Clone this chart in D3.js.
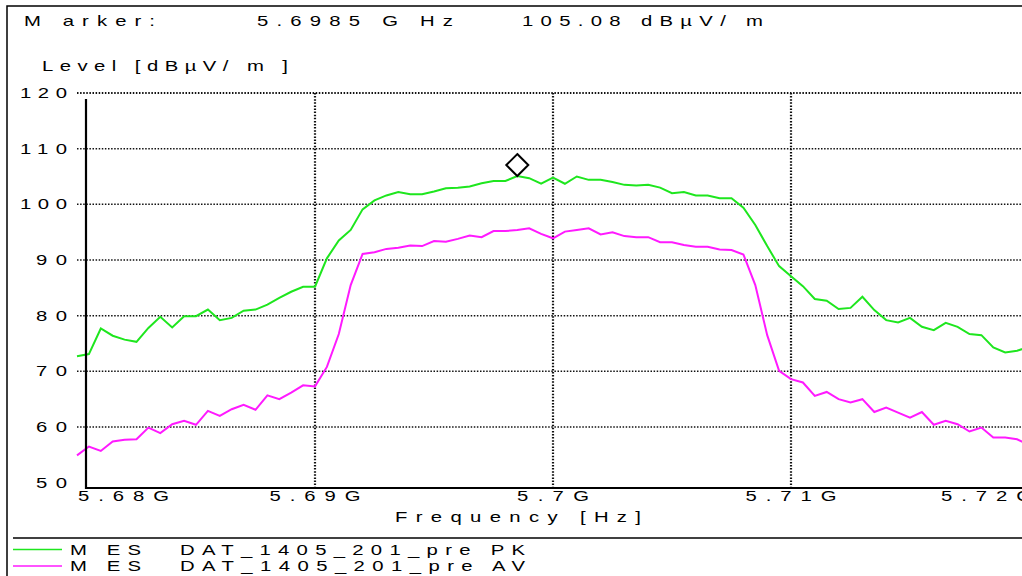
<!DOCTYPE html>
<html>
<head>
<meta charset="utf-8">
<title>MES DAT_1405_201_pre</title>
<script src="https://d3js.org/d3.v7.min.js"></script>
<style>
  body { margin: 0; background: #fff; }
  svg text { font-family: "Liberation Sans", Arial, sans-serif; font-size: 14px; fill: #000; }
</style>
</head>
<body>
<div id="canvas"></div>
<script>
// sweep frequencies (GHz)
var freqs = [
  5.6800, 5.6805, 5.6810, 5.6815, 5.6820, 5.6825, 5.6830, 5.6835, 5.6840, 5.6845,
  5.6850, 5.6855, 5.6860, 5.6865, 5.6870, 5.6875, 5.6880, 5.6885, 5.6890, 5.6895,
  5.6900, 5.6905, 5.6910, 5.6915, 5.6920, 5.6925, 5.6930, 5.6935, 5.6940, 5.6945,
  5.6950, 5.6955, 5.6960, 5.6965, 5.6970, 5.6975, 5.6980, 5.6985, 5.6990, 5.6995,
  5.7000, 5.7005, 5.7010, 5.7015, 5.7020, 5.7025, 5.7030, 5.7035, 5.7040, 5.7045,
  5.7050, 5.7055, 5.7060, 5.7065, 5.7070, 5.7075, 5.7080, 5.7085, 5.7090, 5.7095,
  5.7100, 5.7105, 5.7110, 5.7115, 5.7120, 5.7125, 5.7130, 5.7135, 5.7140, 5.7145,
  5.7150, 5.7155, 5.7160, 5.7165, 5.7170, 5.7175, 5.7180, 5.7185, 5.7190, 5.7195,
  5.7200
];

// MES DAT_1405_201_pre PK  (dBµV/m)
var levelPK = [
  72.7, 73.1, 77.7, 76.4, 75.7, 75.3, 77.8, 79.8, 77.9, 79.9,
  79.9, 81.1, 79.2, 79.6, 80.9, 81.1, 82.0, 83.2, 84.3, 85.2,
  85.2, 90.3, 93.5, 95.4, 99.1, 100.7, 101.6, 102.2, 101.8, 101.8,
  102.3, 102.9, 103.0, 103.2, 103.8, 104.2, 104.2, 105.08, 104.7, 103.7,
  104.8, 103.7, 105.0, 104.4, 104.4, 104.0, 103.5, 103.4, 103.5, 103.0,
  102.0, 102.2, 101.6, 101.6, 101.1, 101.1, 99.4, 96.3, 92.5, 88.9,
  87.1, 85.3, 83.0, 82.7, 81.2, 81.4, 83.4, 81.0, 79.2, 78.8,
  79.6, 78.0, 77.4, 78.7, 78.0, 76.7, 76.5, 74.3, 73.4, 73.7,
  74.4
];

// MES DAT_1405_201_pre AV  (dBµV/m)
var levelAV = [
  54.9, 56.5, 55.7, 57.4, 57.7, 57.8, 59.9, 58.9, 60.5, 61.1,
  60.4, 62.9, 62.0, 63.2, 64.0, 63.1, 65.7, 65.0, 66.2, 67.5,
  67.3, 70.8, 76.7, 85.5, 91.1, 91.4, 92.0, 92.2, 92.6, 92.5,
  93.4, 93.3, 93.8, 94.4, 94.1, 95.2, 95.2, 95.4, 95.7, 94.7,
  93.9, 95.1, 95.4, 95.7, 94.6, 95.0, 94.3, 94.1, 94.1, 93.2,
  93.2, 92.7, 92.4, 92.4, 91.9, 91.8, 91.0, 85.5, 76.5, 70.1,
  68.6, 68.0, 65.6, 66.3, 65.0, 64.4, 65.0, 62.7, 63.5, 62.6,
  61.7, 62.7, 60.4, 61.1, 60.5, 59.2, 59.9, 58.1, 58.1, 57.8,
  56.8
];

var yTicks = [120, 110, 100, 90, 80, 70, 60, 50];
var xTicks = [5.68, 5.69, 5.70, 5.71, 5.72];
var xTickLabels = ["5.68G", "5.69G", "5.7G", "5.71G", "5.72G"];
var markerFreq = 5.6985, markerLevel = 105.08;

var W = 1022, H = 576;
var SX = 1.45;  // the printout's font is stretched horizontally

var svg = d3.select("#canvas").append("svg")
    .attr("width", W).attr("height", H);

var x = d3.scaleLinear().domain([5.68, 5.72]).range([77, 1029]);
var y = d3.scaleLinear().domain([50, 120]).range([482.7, 93]);

// outer frame
svg.append("rect")
    .attr("x", 7).attr("y", 6).attr("width", W + 20).attr("height", H + 20)
    .attr("fill", "none").attr("stroke", "#000").attr("stroke-width", 1.5);

svg.append("line")
    .attr("x1", 13).attr("x2", W).attr("y1", 538).attr("y2", 538)
    .attr("stroke", "#000").attr("stroke-width", 1.5);

// stretched text, spread to a given width
function label(t, px, py, len, anchor) {
    return svg.append("text").text(t)
        .attr("transform", "translate(" + px + "," + py + ") scale(" + SX + ",1)")
        .attr("text-anchor", anchor || "start")
        .attr("textLength", len / SX).attr("lengthAdjust", "spacing");
}
label("M arker:", 24, 26, 131);
label("5.6985 G Hz", 257, 26, 196);
label("105.08 dBµV/ m", 522, 26, 241);
label("Level [dBµV/ m ]", 42, 71, 246);

// horizontal dotted grid
svg.append("g").selectAll("line")
    .data(yTicks.filter(function(d) { return d > 50; }))
    .enter().append("line")
    .attr("x1", 77).attr("x2", W)
    .attr("y1", function(d) { return y(d); })
    .attr("y2", function(d) { return y(d); })
    .attr("stroke", "#111")
    .attr("stroke-width", function(d) { return d == 120 ? 2 : 1.5; })
    .attr("stroke-dasharray", "1.5,1.6");

// vertical dotted grid
svg.append("g").selectAll("line")
    .data(xTicks.slice(1, 4))
    .enter().append("line")
    .attr("x1", function(d) { return x(d); })
    .attr("x2", function(d) { return x(d); })
    .attr("y1", 93).attr("y2", 487)
    .attr("stroke", "#111").attr("stroke-width", 2.2)
    .attr("stroke-dasharray", "1.5,1.6");

// y tick labels
yTicks.forEach(function(d) {
    label(String(d), 67, y(d) + 5, d >= 100 ? 47 : 31, "end");
});

// x tick labels
xTicks.forEach(function(d, i) {
    var t = xTickLabels[i], len = t.length == 4 ? 72 : 91;
    if (i == 0) label(t, x(d) + 1, 501, len, "start");
    else if (i == xTicks.length - 1) label(t, x(d) + 3, 501, len, "end");
    else label(t, x(d), 501, len, "middle");
});

label("Frequency [Hz]", 395, 522, 246);

// curves
var line = d3.line()
    .x(function(d, i) { return x(freqs[i]); })
    .y(function(d) { return y(d); });

svg.append("path").datum(levelPK)
    .attr("d", line)
    .attr("fill", "none").attr("stroke", "#1ee61e").attr("stroke-width", 2);

svg.append("path").datum(levelAV)
    .attr("d", line)
    .attr("fill", "none").attr("stroke", "#ff1aff").attr("stroke-width", 2);

// axes lines
svg.append("line")
    .attr("x1", 86).attr("x2", 86).attr("y1", 99).attr("y2", 489)
    .attr("stroke", "#000").attr("stroke-width", 2.2);
svg.append("line")
    .attr("x1", 85).attr("x2", W).attr("y1", 488).attr("y2", 488)
    .attr("stroke", "#000").attr("stroke-width", 2);

// marker diamond (bottom tip on the marker point)
var mx = x(markerFreq), my = y(markerLevel) - 11;
svg.append("path")
    .attr("d", "M" + mx + "," + (my - 11) + "L" + (mx + 11) + "," + my +
               "L" + mx + "," + (my + 11) + "L" + (mx - 11) + "," + my + "Z")
    .attr("fill", "#fff").attr("stroke", "#000").attr("stroke-width", 2);

// legend
var legend = [
    { color: "#1ee61e", name: "DAT_1405_201_pre PK", yy: 549.5 },
    { color: "#ff1aff", name: "DAT_1405_201_pre AV", yy: 566 }
];
legend.forEach(function(l) {
    svg.append("line")
        .attr("x1", 13).attr("x2", 62).attr("y1", l.yy).attr("y2", l.yy)
        .attr("stroke", l.color).attr("stroke-width", 1.5);
    label("M ES", 70, l.yy + 5, 71);
    label(l.name, 180, l.yy + 5, 345);
});
</script>
</body>
</html>
